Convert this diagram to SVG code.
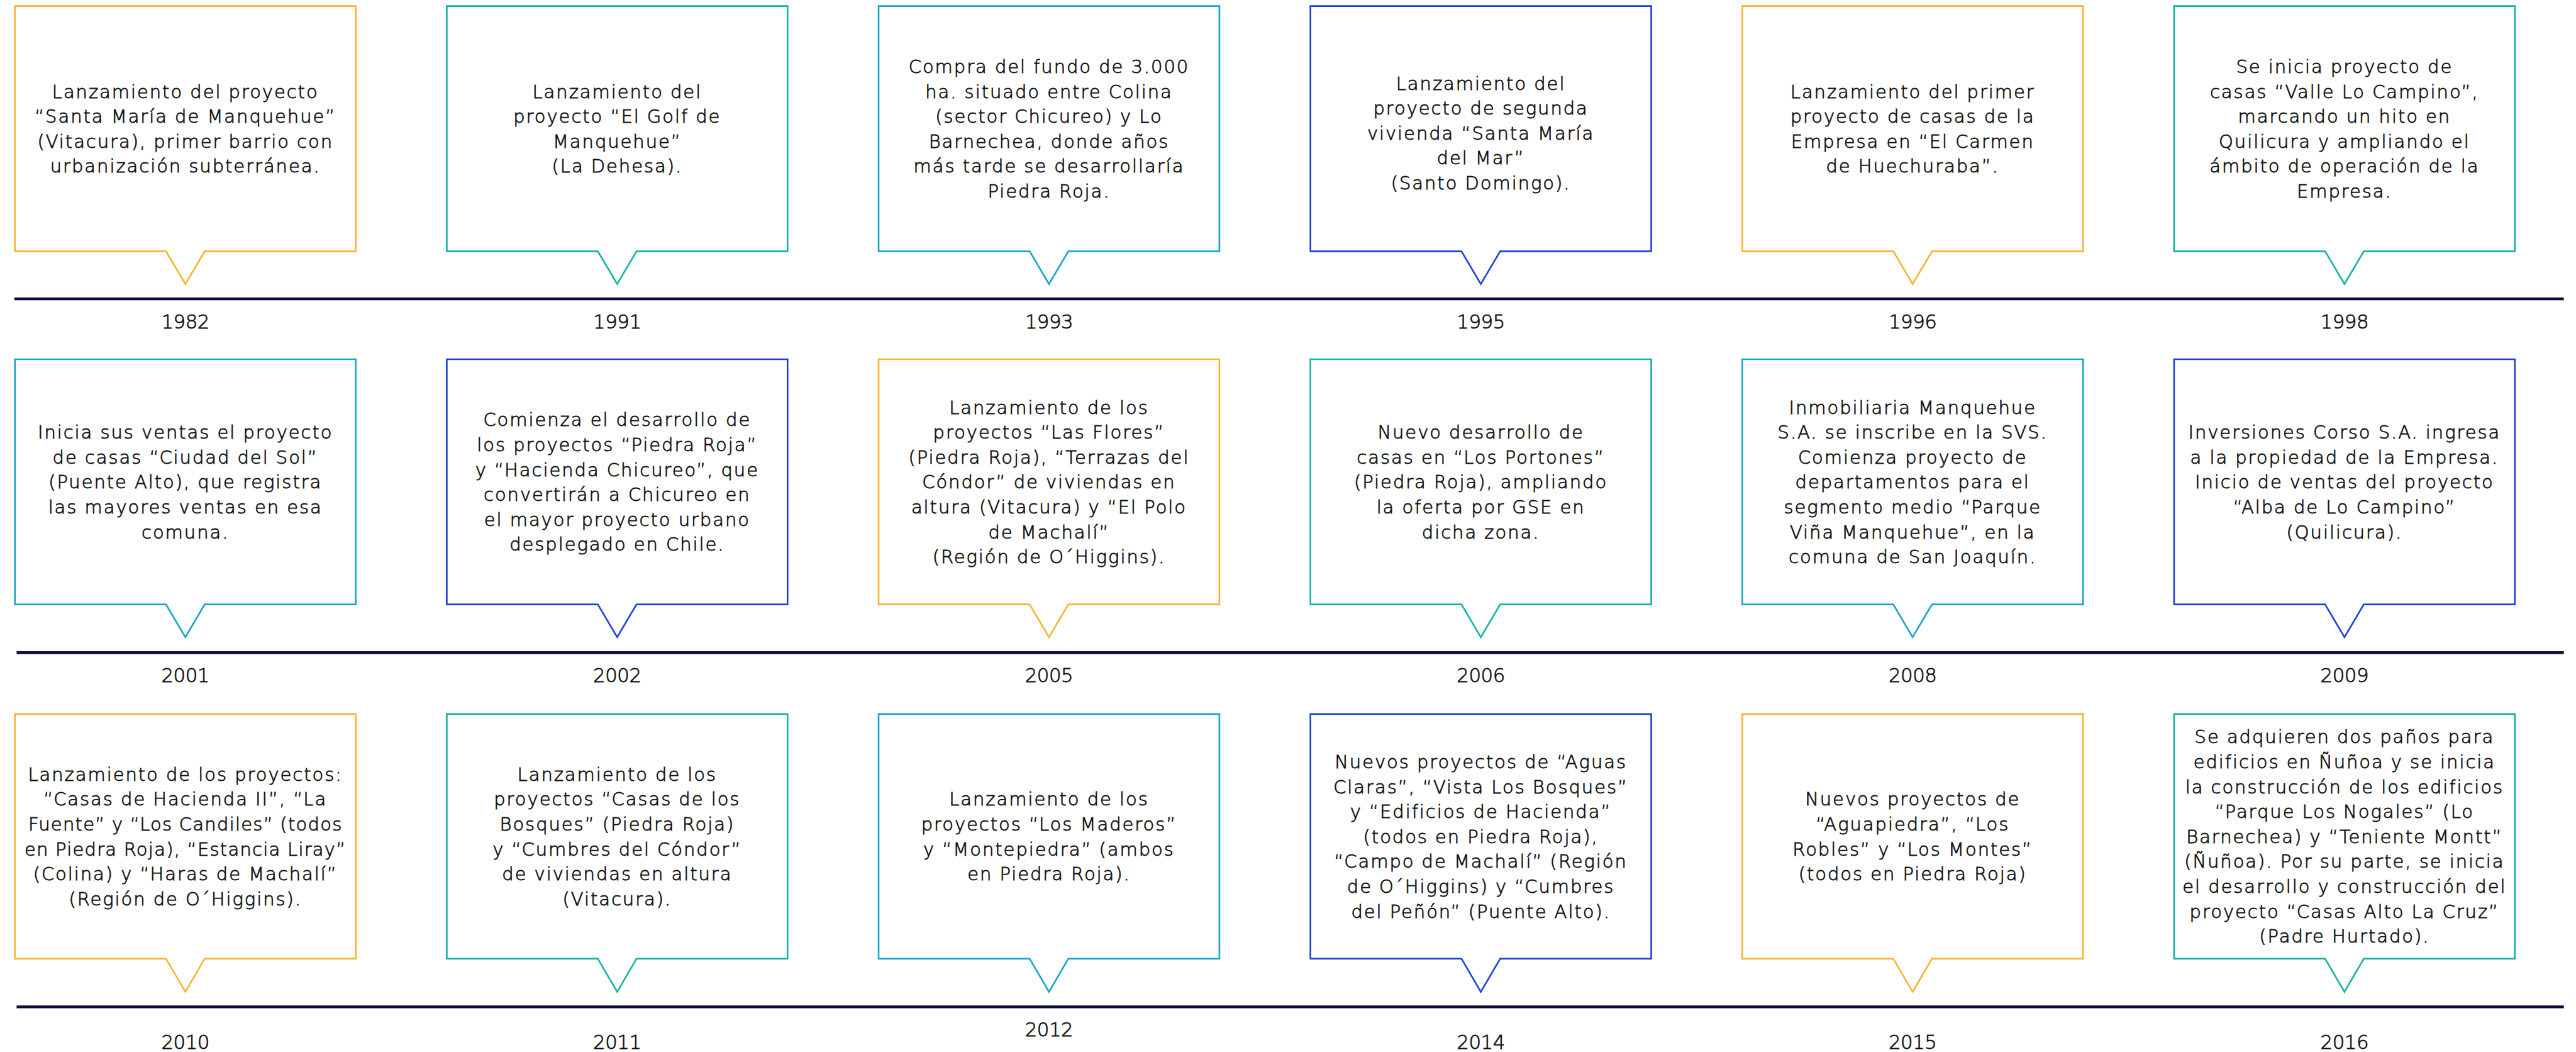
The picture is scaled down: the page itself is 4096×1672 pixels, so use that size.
<svg xmlns="http://www.w3.org/2000/svg" width="4096" height="1672" viewBox="0 0 4096 1672">
<style>
.box{fill:#fff;stroke-width:3;stroke-linejoin:miter}
.o{stroke:#F8B332}.t{stroke:#14B3A3}.c{stroke:#18A4C9}.b{stroke:#1D42D8}
.tx{font-family:"DejaVu Sans","Liberation Sans",sans-serif;font-weight:200;font-size:33px;letter-spacing:2.2px;fill:#111;stroke:#111;stroke-width:0.9px;text-anchor:middle}
.yr{font-family:"DejaVu Sans","Liberation Sans",sans-serif;font-weight:200;font-size:35px;letter-spacing:-0.5px;fill:#111;stroke:#111;stroke-width:0.9px;text-anchor:middle}
.ln{stroke:#0B0B3B;stroke-width:5;fill:none}
.nar{letter-spacing:1.4px}
</style>
<rect width="4096" height="1672" fill="#fff"/>
<g transform="scale(0.87973)">
<g id="connectors">
<line class="ln" x1="26" y1="540" x2="4634" y2="540"/>
<line class="ln" x1="30" y1="1179" x2="4634" y2="1179"/>
<line class="ln" x1="30" y1="1819" x2="4634" y2="1819"/>
</g>
<!-- Row 1 -->
<g id="n1982">
<path class="box o" d="M27,11H643V454H370L335,513L300,454H27Z"/>
<text class="tx"><tspan x="335" y="177">Lanzamiento del proyecto</tspan><tspan x="335" y="222">“Santa María de Manquehue”</tspan><tspan x="335" y="267">(Vitacura), primer barrio con</tspan><tspan x="335" y="312">urbanización subterránea.</tspan></text>
<text class="yr" x="335" y="593">1982</text>
</g>
<g id="n1991">
<path class="box t" d="M807.5,11H1423.5V454H1150.5L1115.5,513L1080.5,454H807.5Z"/>
<text class="tx"><tspan x="1115.5" y="177">Lanzamiento del</tspan><tspan x="1115.5" y="222">proyecto “El Golf de</tspan><tspan x="1115.5" y="267">Manquehue”</tspan><tspan x="1115.5" y="312">(La Dehesa).</tspan></text>
<text class="yr" x="1115.5" y="593">1991</text>
</g>
<g id="n1993">
<path class="box c" d="M1588,11H2204V454H1931L1896,513L1861,454H1588Z"/>
<text class="tx"><tspan x="1896" y="132">Compra del fundo de 3.000</tspan><tspan x="1896" y="177">ha. situado entre Colina</tspan><tspan x="1896" y="222">(sector Chicureo) y Lo</tspan><tspan x="1896" y="267">Barnechea, donde años</tspan><tspan x="1896" y="312">más tarde se desarrollaría</tspan><tspan x="1896" y="357">Piedra Roja.</tspan></text>
<text class="yr" x="1896" y="593">1993</text>
</g>
<g id="n1995">
<path class="box b" d="M2368.5,11H2984.5V454H2711.5L2676.5,513L2641.5,454H2368.5Z"/>
<text class="tx"><tspan x="2676.5" y="162">Lanzamiento del</tspan><tspan x="2676.5" y="207">proyecto de segunda</tspan><tspan x="2676.5" y="252">vivienda “Santa María</tspan><tspan x="2676.5" y="297">del Mar”</tspan><tspan x="2676.5" y="342">(Santo Domingo).</tspan></text>
<text class="yr" x="2676.5" y="593">1995</text>
</g>
<g id="n1996">
<path class="box o" d="M3149,11H3765V454H3492L3457,513L3422,454H3149Z"/>
<text class="tx"><tspan x="3457" y="177">Lanzamiento del primer</tspan><tspan x="3457" y="222">proyecto de casas de la</tspan><tspan x="3457" y="267">Empresa en “El Carmen</tspan><tspan x="3457" y="312">de Huechuraba”.</tspan></text>
<text class="yr" x="3457" y="593">1996</text>
</g>
<g id="n1998">
<path class="box t" d="M3929.5,11H4545.5V454H4272.5L4237.5,513L4202.5,454H3929.5Z"/>
<text class="tx"><tspan x="4237.5" y="132">Se inicia proyecto de</tspan><tspan x="4237.5" y="177">casas “Valle Lo Campino”,</tspan><tspan x="4237.5" y="222">marcando un hito en</tspan><tspan x="4237.5" y="267">Quilicura y ampliando el</tspan><tspan x="4237.5" y="312">ámbito de operación de la</tspan><tspan x="4237.5" y="357">Empresa.</tspan></text>
<text class="yr" x="4237.5" y="593">1998</text>
</g>
<!-- Row 2 -->
<g id="n2001">
<path class="box c" d="M27,649H643V1092H370L335,1151L300,1092H27Z"/>
<text class="tx"><tspan x="335" y="792.5">Inicia sus ventas el proyecto</tspan><tspan x="335" y="837.5">de casas “Ciudad del Sol”</tspan><tspan x="335" y="882.5">(Puente Alto), que registra</tspan><tspan x="335" y="927.5">las mayores ventas en esa</tspan><tspan x="335" y="972.5">comuna.</tspan></text>
<text class="yr" x="335" y="1232">2001</text>
</g>
<g id="n2002">
<path class="box b" d="M807.5,649H1423.5V1092H1150.5L1115.5,1151L1080.5,1092H807.5Z"/>
<text class="tx"><tspan x="1115.5" y="770">Comienza el desarrollo de</tspan><tspan x="1115.5" y="815">los proyectos “Piedra Roja”</tspan><tspan x="1115.5" y="860">y “Hacienda Chicureo”, que</tspan><tspan x="1115.5" y="905">convertirán a Chicureo en</tspan><tspan x="1115.5" y="950">el mayor proyecto urbano</tspan><tspan x="1115.5" y="995">desplegado en Chile.</tspan></text>
<text class="yr" x="1115.5" y="1232">2002</text>
</g>
<g id="n2005">
<path class="box o" d="M1588,649H2204V1092H1931L1896,1151L1861,1092H1588Z"/>
<text class="tx"><tspan x="1896" y="747.5">Lanzamiento de los</tspan><tspan x="1896" y="792.5">proyectos “Las Flores”</tspan><tspan x="1896" y="837.5">(Piedra Roja), “Terrazas del</tspan><tspan x="1896" y="882.5">Cóndor” de viviendas en</tspan><tspan x="1896" y="927.5">altura (Vitacura) y “El Polo</tspan><tspan x="1896" y="972.5">de Machalí”</tspan><tspan x="1896" y="1017.5">(Región de O´Higgins).</tspan></text>
<text class="yr" x="1896" y="1232">2005</text>
</g>
<g id="n2006">
<path class="box t" d="M2368.5,649H2984.5V1092H2711.5L2676.5,1151L2641.5,1092H2368.5Z"/>
<text class="tx"><tspan x="2676.5" y="792.5">Nuevo desarrollo de</tspan><tspan x="2676.5" y="837.5">casas en “Los Portones”</tspan><tspan x="2676.5" y="882.5">(Piedra Roja), ampliando</tspan><tspan x="2676.5" y="927.5">la oferta por GSE en</tspan><tspan x="2676.5" y="972.5">dicha zona.</tspan></text>
<text class="yr" x="2676.5" y="1232">2006</text>
</g>
<g id="n2008">
<path class="box c" d="M3149,649H3765V1092H3492L3457,1151L3422,1092H3149Z"/>
<text class="tx"><tspan x="3457" y="747.5">Inmobiliaria Manquehue</tspan><tspan x="3457" y="792.5">S.A. se inscribe en la SVS.</tspan><tspan x="3457" y="837.5">Comienza proyecto de</tspan><tspan x="3457" y="882.5">departamentos para el</tspan><tspan x="3457" y="927.5">segmento medio “Parque</tspan><tspan x="3457" y="972.5">Viña Manquehue”, en la</tspan><tspan x="3457" y="1017.5">comuna de San Joaquín.</tspan></text>
<text class="yr" x="3457" y="1232">2008</text>
</g>
<g id="n2009">
<path class="box b" d="M3929.5,649H4545.5V1092H4272.5L4237.5,1151L4202.5,1092H3929.5Z"/>
<text class="tx"><tspan x="4237.5" y="792.5">Inversiones Corso S.A. ingresa</tspan><tspan x="4237.5" y="837.5">a la propiedad de la Empresa.</tspan><tspan x="4237.5" y="882.5">Inicio de ventas del proyecto</tspan><tspan x="4237.5" y="927.5">“Alba de Lo Campino”</tspan><tspan x="4237.5" y="972.5">(Quilicura).</tspan></text>
<text class="yr" x="4237.5" y="1232">2009</text>
</g>
<!-- Row 3 -->
<g id="n2010">
<path class="box o" d="M27,1290H643V1732H370L335,1792L300,1732H27Z"/>
<text class="tx"><tspan x="335" y="1410.5">Lanzamiento de los proyectos:</tspan><tspan x="335" y="1455.5">“Casas de Hacienda II”, “La</tspan><tspan x="335" y="1500.5" class="nar">Fuente” y “Los Candiles” (todos</tspan><tspan x="335" y="1545.5" class="nar">en Piedra Roja), “Estancia Liray”</tspan><tspan x="335" y="1590.5">(Colina) y “Haras de Machalí”</tspan><tspan x="335" y="1635.5">(Región de O´Higgins).</tspan></text>
<text class="yr" x="335" y="1895">2010</text>
</g>
<g id="n2011">
<path class="box t" d="M807.5,1290H1423.5V1732H1150.5L1115.5,1792L1080.5,1732H807.5Z"/>
<text class="tx"><tspan x="1115.5" y="1410.5">Lanzamiento de los</tspan><tspan x="1115.5" y="1455.5">proyectos “Casas de los</tspan><tspan x="1115.5" y="1500.5">Bosques” (Piedra Roja)</tspan><tspan x="1115.5" y="1545.5">y “Cumbres del Cóndor”</tspan><tspan x="1115.5" y="1590.5">de viviendas en altura</tspan><tspan x="1115.5" y="1635.5">(Vitacura).</tspan></text>
<text class="yr" x="1115.5" y="1895">2011</text>
</g>
<g id="n2012">
<path class="box c" d="M1588,1290H2204V1732H1931L1896,1792L1861,1732H1588Z"/>
<text class="tx"><tspan x="1896" y="1455.5">Lanzamiento de los</tspan><tspan x="1896" y="1500.5">proyectos “Los Maderos”</tspan><tspan x="1896" y="1545.5">y “Montepiedra” (ambos</tspan><tspan x="1896" y="1590.5">en Piedra Roja).</tspan></text>
<text class="yr" x="1896" y="1872">2012</text>
</g>
<g id="n2014">
<path class="box b" d="M2368.5,1290H2984.5V1732H2711.5L2676.5,1792L2641.5,1732H2368.5Z"/>
<text class="tx"><tspan x="2676.5" y="1388">Nuevos proyectos de “Aguas</tspan><tspan x="2676.5" y="1433">Claras”, “Vista Los Bosques”</tspan><tspan x="2676.5" y="1478">y “Edificios de Hacienda”</tspan><tspan x="2676.5" y="1523">(todos en Piedra Roja),</tspan><tspan x="2676.5" y="1568">“Campo de Machalí” (Región</tspan><tspan x="2676.5" y="1613">de O´Higgins) y “Cumbres</tspan><tspan x="2676.5" y="1658">del Peñón” (Puente Alto).</tspan></text>
<text class="yr" x="2676.5" y="1895">2014</text>
</g>
<g id="n2015">
<path class="box o" d="M3149,1290H3765V1732H3492L3457,1792L3422,1732H3149Z"/>
<text class="tx"><tspan x="3457" y="1455.5">Nuevos proyectos de</tspan><tspan x="3457" y="1500.5">“Aguapiedra”, “Los</tspan><tspan x="3457" y="1545.5">Robles” y “Los Montes”</tspan><tspan x="3457" y="1590.5">(todos en Piedra Roja)</tspan></text>
<text class="yr" x="3457" y="1895">2015</text>
</g>
<g id="n2016">
<path class="box t" d="M3929.5,1290H4545.5V1732H4272.5L4237.5,1792L4202.5,1732H3929.5Z"/>
<text class="tx"><tspan x="4237.5" y="1343">Se adquieren dos paños para</tspan><tspan x="4237.5" y="1388">edificios en Ñuñoa y se inicia</tspan><tspan x="4237.5" y="1433">la construcción de los edificios</tspan><tspan x="4237.5" y="1478">“Parque Los Nogales” (Lo</tspan><tspan x="4237.5" y="1523">Barnechea) y “Teniente Montt”</tspan><tspan x="4237.5" y="1568">(Ñuñoa). Por su parte, se inicia</tspan><tspan x="4237.5" y="1613">el desarrollo y construcción del</tspan><tspan x="4237.5" y="1658">proyecto “Casas Alto La Cruz”</tspan><tspan x="4237.5" y="1703">(Padre Hurtado).</tspan></text>
<text class="yr" x="4237.5" y="1895">2016</text>
</g>
</g>
</svg>
